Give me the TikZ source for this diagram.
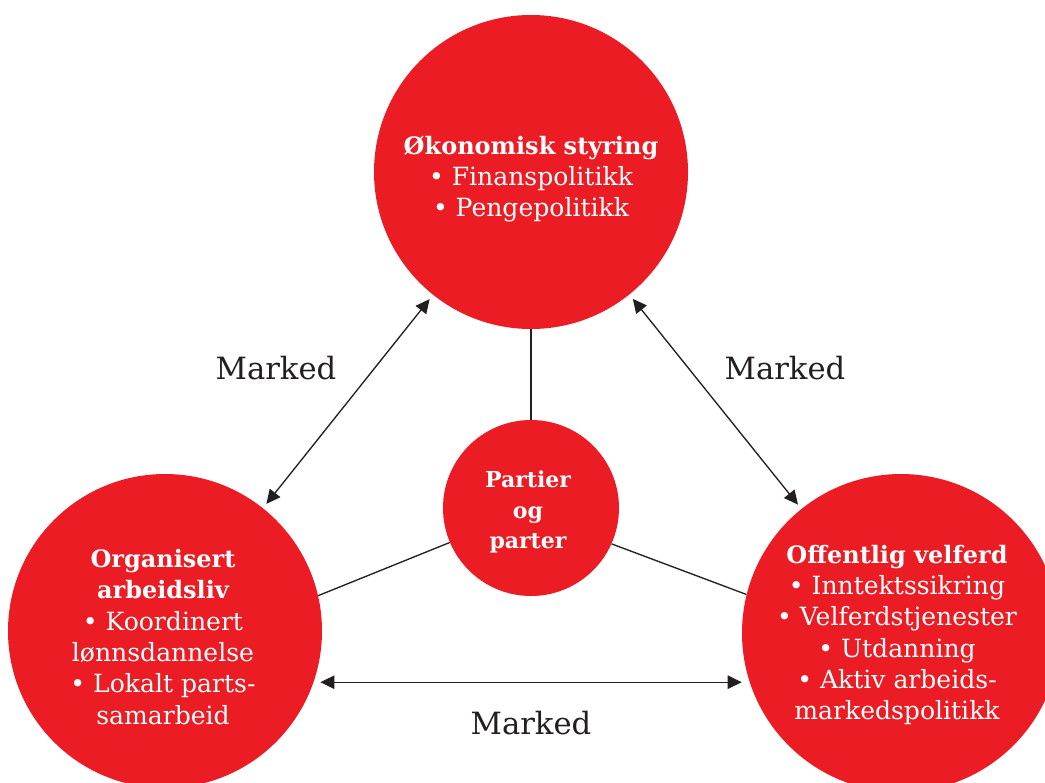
\documentclass[tikz,border=0pt]{standalone}
\usepackage{fontspec}
\setmainfont{DejaVu Serif}
\usetikzlibrary{arrows.meta,calc}
\definecolor{nred}{HTML}{EC1C24}
\definecolor{ink}{HTML}{231F20}
\begin{document}
\begin{tikzpicture}[x=0.75pt,y=-0.75pt,
  bigc/.style={circle,fill=nred,draw=none,minimum size=235.5pt,inner sep=0pt},
  midc/.style={circle,fill=nred,draw=none,minimum size=132pt,inner sep=0pt},
  ctext/.style={text=white,align=center,inner sep=0pt,font=\fontsize{18.8}{23.5}\selectfont},
  mtext/.style={text=white,align=center,inner sep=0pt,font=\bfseries\fontsize{16.5}{23}\selectfont},
  conn/.style={draw=ink,line width=1pt},
  mk/.style={conn,{Triangle[length=10.5pt,width=10pt]}-{Triangle[length=10.5pt,width=10pt]},shorten <=4pt,shorten >=4pt},
  lbl/.style={text=ink,font=\fontsize{23}{28}\selectfont}]
\clip (0,0) rectangle (1045,782);
\fill[white] (0,0) rectangle (1045,782);

\node[bigc] (top) at (531,172) {};
\node[midc] (mid) at (531,508) {};
\node[bigc] (left) at (165,631) {};
\node[bigc,minimum size=238.5pt] (right) at (901,633) {};

\node[ctext] (toptxt) at (531,179) {{\bfseries\fontsize{18}{23.5}\selectfont Økonomisk styring}\\• Finanspolitikk\\• Pengepolitikk};
\node[mtext] (midtxt) at (528,512) {Partier\\og\\parter};
\node[ctext] (lefttxt) at (163,637) {{\bfseries\fontsize{18}{23.5}\selectfont Organisert}\\{\bfseries\fontsize{18}{23.5}\selectfont arbeidsliv}\\• Koordinert\\lønnsdannelse\\• Lokalt parts-\\samarbeid};
\node[ctext] (righttxt) at (897,635) {{\bfseries\fontsize{18}{23.5}\selectfont Offentlig velferd}\\• Inntektssikring\\• Velferdstjenester\\• Utdanning\\• Aktiv arbeids-\\markedspolitikk};

\draw[conn] (top) -- (mid);
\draw[conn] (mid.203.4) -- (left.13.5);
\draw[conn] (mid.-24.3) -- (right.166.5);

\draw[mk] (top) -- (left);
\draw[mk] (top) -- (right);
\coordinate (bl) at (left.-19.7);
\coordinate (br) at (bl -| right.west);
\draw[mk,shorten <=5pt,shorten >=0pt] (bl) -- (br);

\node[lbl] (m1) at (276,368) {Marked};
\node[lbl] (m2) at (785,368) {Marked};
\node[lbl] (m3) at (531,723) {Marked};
\end{tikzpicture}
\end{document}
